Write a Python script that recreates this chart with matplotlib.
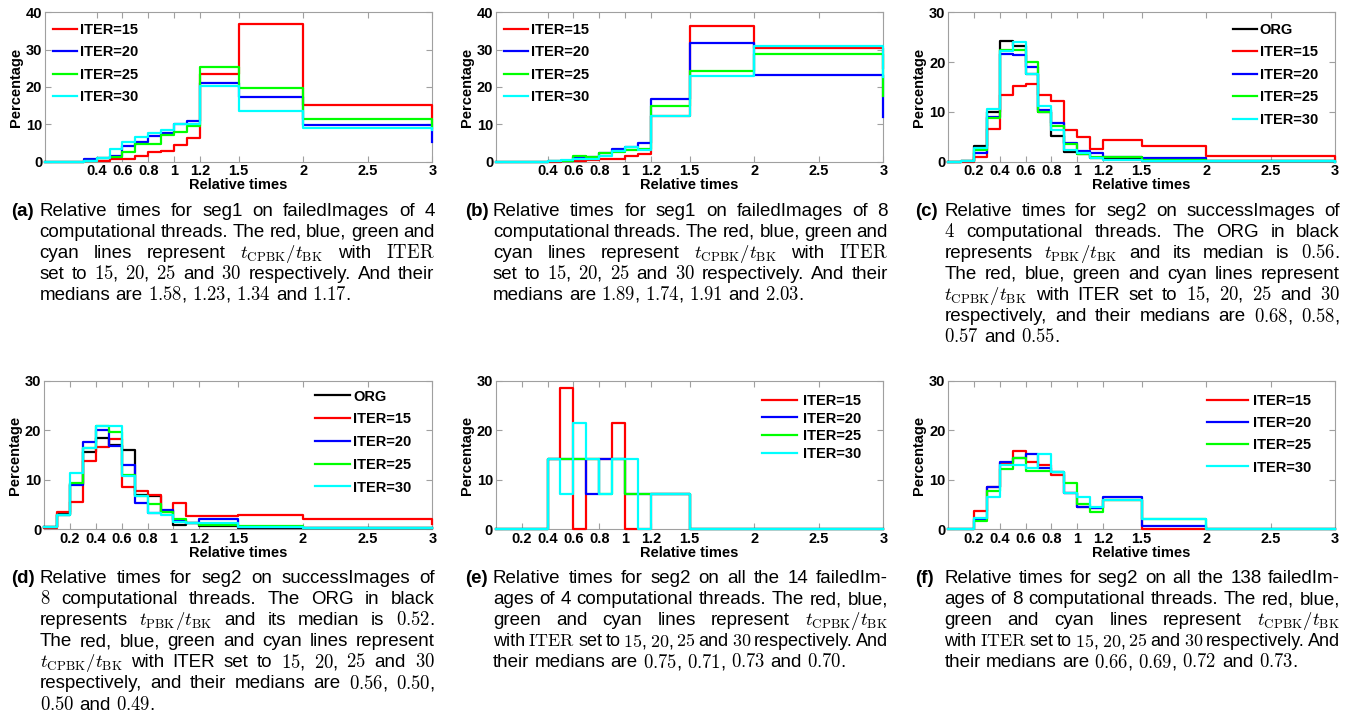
import matplotlib
matplotlib.use('Agg')
import matplotlib.pyplot as plt

plt.rcParams['font.family'] = ['Liberation Sans', 'DejaVu Sans']
plt.rcParams['mathtext.fontset'] = 'cm'

# ---------------- data ----------------
edges = [0.0, 0.1, 0.2, 0.3, 0.4, 0.5, 0.6, 0.7, 0.8, 0.9, 1.0, 1.1, 1.2, 1.5, 2.0, 3.0]

a_15 = [0, 0, 0, 0.3, 0.2, 0.6, 0.6, 1.6, 2.5, 2.8, 4.6, 6.4, 23.5, 37.0, 15.2, 10.0]
a_20 = [0, 0, 0, 0.7, 1.0, 1.5, 4.1, 5.3, 7.0, 7.8, 10.0, 11.0, 21.1, 17.4, 9.9, 5.2]
a_25 = [0, 0, 0, 0.2, 1.1, 1.2, 2.5, 4.8, 4.8, 7.1, 7.9, 9.5, 25.4, 19.6, 11.4, 9.0]
a_30 = [0, 0, 0, 0.1, 1.1, 3.4, 5.2, 6.5, 7.7, 8.4, 10.1, 10.1, 20.3, 13.6, 8.9, 8.5]

b_15 = [0, 0, 0, 0, 0, 0.1, 0.3, 0.4, 0.7, 0.8, 1.6, 2.0, 12.2, 36.2, 30.5, 25.0]
b_20 = [0, 0, 0, 0, 0.2, 0.2, 1.2, 1.2, 2.2, 3.4, 4.0, 5.0, 16.8, 31.8, 23.2, 12.0]
b_25 = [0, 0, 0, 0, 0.1, 0.2, 1.4, 1.3, 2.2, 2.7, 3.2, 3.4, 15.0, 24.2, 28.8, 17.5]
b_30 = [0, 0, 0, 0, 0.1, 0.5, 0.7, 0.8, 1.5, 2.8, 3.9, 3.2, 12.2, 22.9, 31.1, 22.8]

c_org = [0, 0.2, 3.1, 10.0, 24.3, 23.2, 17.6, 10.0, 5.2, 1.9, 1.5, 0.7, 0.5, 0.2, 0.1, 0.1]
c_15 = [0, 0, 1.0, 6.6, 13.4, 15.2, 15.7, 13.4, 12.1, 6.4, 5.0, 2.6, 4.4, 3.2, 1.2, 0.6]
c_20 = [0, 0.1, 1.8, 9.0, 21.6, 21.4, 19.0, 10.4, 7.8, 3.8, 2.1, 1.7, 1.0, 0.7, 0.1, 0]
c_25 = [0, 0.1, 2.3, 8.7, 22.4, 22.4, 20.0, 9.9, 7.2, 3.5, 1.5, 1.0, 1.0, 0.3, 0.1, 0]
c_30 = [0, 0.2, 2.7, 10.6, 22.2, 24.1, 17.6, 11.2, 6.3, 2.3, 1.8, 0.8, 0.4, 0.2, 0.1, 0]

d_org = [0.5, 3.1, 9.2, 15.7, 18.4, 17.1, 16.0, 7.0, 6.8, 3.7, 0.9, 1.2, 0.6, 0.3, 0.2, 0.2]
d_15 = [0.3, 3.4, 5.6, 13.9, 16.6, 18.2, 8.6, 7.8, 6.9, 3.6, 5.3, 2.6, 2.6, 2.8, 2.0, 1.0]
d_20 = [0.4, 2.9, 8.9, 17.6, 20.1, 16.9, 13.0, 5.3, 3.3, 3.9, 1.9, 1.3, 2.0, 0.4, 0.3, 0.2]
d_25 = [0.5, 2.9, 9.4, 16.4, 20.8, 19.6, 11.0, 6.7, 5.1, 3.4, 2.1, 1.2, 0.8, 0.6, 0.2, 0.2]
d_30 = [0.5, 2.9, 11.3, 16.4, 20.8, 20.8, 10.7, 6.7, 3.2, 2.9, 1.5, 1.2, 1.2, 0.4, 0.2, 0.2]

e_15 = [0, 0, 0, 0, 14.29, 28.57, 0, 14.29, 14.29, 21.43, 0, 0, 7.14, 0, 0, 0]
e_20 = [0, 0, 0, 0, 14.29, 14.29, 14.29, 7.14, 14.29, 14.29, 7.14, 7.14, 7.14, 0, 0, 0]
e_25 = [0, 0, 0, 0, 14.29, 14.29, 14.29, 14.29, 7.14, 14.29, 7.14, 7.14, 7.14, 0, 0, 0]
e_30 = [0, 0, 0, 0, 14.29, 7.14, 21.43, 14.29, 7.14, 14.29, 14.29, 0, 7.14, 0, 0, 0]

f_15 = [0, 0, 3.7, 8.6, 13.5, 15.9, 13.7, 13.1, 11.0, 7.3, 4.5, 4.3, 5.9, 0, 0, 0]
f_20 = [0, 0, 2.0, 8.6, 13.7, 14.4, 15.2, 12.3, 11.5, 7.3, 4.5, 4.3, 6.5, 0.7, 0, 0]
f_25 = [0, 0, 1.6, 7.8, 12.2, 14.4, 11.7, 11.7, 11.5, 9.4, 5.1, 3.6, 5.9, 2.1, 0, 0]
f_30 = [0, 0, 2.2, 6.5, 13.1, 13.1, 12.3, 15.2, 11.5, 7.3, 6.6, 4.5, 5.9, 2.1, 0, 0]

iter_labels = ['ITER=15', 'ITER=20', 'ITER=25', 'ITER=30']
org_label = 'ORG'
xt_ab = [0.4, 0.6, 0.8, 1, 1.2, 1.5, 2, 2.5, 3]
xtl_ab = ['0.4', '0.6', '0.8', '1', '1.2', '1.5', '2', '2.5', '3']
xt_cf = [0.2, 0.4, 0.6, 0.8, 1, 1.2, 1.5, 2, 2.5, 3]
xtl_cf = ['0.2', '0.4', '0.6', '0.8', '1', '1.2', '1.5', '2', '2.5', '3']
yt_40 = [0, 10, 20, 30, 40]
yt_30 = [0, 10, 20, 30]
xlabel = 'Relative times'
ylabel = 'Percentage'

T = r'$t_{\mathrm{CPBK}}/t_{\mathrm{BK}}$'
P = r'$t_{\mathrm{PBK}}/t_{\mathrm{BK}}$'
cap_a = ['Relative times for seg1 on failedImages of 4',
         'computational threads. The red, blue, green and',
         'cyan lines represent ' + T + r' with $\mathrm{ITER}$',
         'set to $15$, $20$, $25$ and $30$ respectively. And their',
         'medians are $1.58$, $1.23$, $1.34$ and $1.17$.']
cap_b = ['Relative times for seg1 on failedImages of 8',
         'computational threads. The red, blue, green and',
         'cyan lines represent ' + T + r' with $\mathrm{ITER}$',
         'set to $15$, $20$, $25$ and $30$ respectively. And their',
         'medians are $1.89$, $1.74$, $1.91$ and $2.03$.']
cap_c = ['Relative times for seg2 on successImages of',
         '$4$ computational threads. The ORG in black',
         'represents ' + P + ' and its median is $0.56$.',
         'The red, blue, green and cyan lines represent',
         T + ' with ITER set to $15$, $20$, $25$ and $30$',
         'respectively, and their medians are $0.68$, $0.58$,',
         '$0.57$ and $0.55$.']
cap_d = ['Relative times for seg2 on successImages of',
         '$8$ computational threads. The ORG in black',
         'represents ' + P + ' and its median is $0.52$.',
         'The red, blue, green and cyan lines represent',
         T + ' with ITER set to $15$, $20$, $25$ and $30$',
         'respectively, and their medians are $0.56$, $0.50$,',
         '$0.50$ and $0.49$.']
cap_e = ['Relative times for seg2 on all the 14 failedIm-',
         'ages of 4 computational threads. The red, blue,',
         'green and cyan lines represent ' + T,
         r'with $\mathrm{ITER}$ set to $15$, $20$, $25$ and $30$ respectively. And',
         'their medians are $0.75$, $0.71$, $0.73$ and $0.70$.']
cap_f = ['Relative times for seg2 on all the 138 failedIm-',
         'ages of 8 computational threads. The red, blue,',
         'green and cyan lines represent ' + T,
         r'with $\mathrm{ITER}$ set to $15$, $20$, $25$ and $30$ respectively. And',
         'their medians are $0.66$, $0.69$, $0.72$ and $0.73$.']

# ---------------- figure ----------------
W, H = 1349, 713
fig = plt.figure(figsize=(W / 100, H / 100), dpi=100)
renderer = fig.canvas.get_renderer()

C4 = ['#ff0000', '#0000ff', '#00ff00', '#00ffff']
FS = 10.5
CAPFS = 13.5
MATHFS = 13.5


def add_ax(l, t, r, b):
    return fig.add_axes([l / W, 1 - b / H, (r - l) / W, (b - t) / H])


def panel(ax, series, labels, colors, yt, xt, xtl, leg):
    for vals, lab, col in zip(series, labels, colors):
        ax.step(edges, vals, where='post', color=col, lw=1.6, label=lab,
                clip_on=False, zorder=3)
    ax.set_xlim(0, 3)
    ax.set_ylim(yt[0], yt[-1])
    ax.set_xticks(xt)
    ax.set_xticklabels(xtl, fontsize=FS, fontweight='bold')
    ax.set_yticks(yt)
    ax.set_yticklabels([str(v) for v in yt], fontsize=FS, fontweight='bold')
    ax.set_xlabel(xlabel, fontsize=FS, fontweight='bold', labelpad=0)
    ax.set_ylabel(ylabel, fontsize=FS, fontweight='bold', labelpad=2)
    for s in ax.spines.values():
        s.set_color('#a0a0a0')
        s.set_linewidth(0.8)
    ax.tick_params(direction='in', length=4, width=0.8, color='#a0a0a0',
                   top=True, right=True, pad=2)
    hx, hy, hl, hp, ls = leg
    ax.legend(loc='upper left', bbox_to_anchor=(hx, hy), frameon=False,
              borderpad=0, borderaxespad=0, handlelength=hl, handletextpad=hp,
              labelspacing=ls, prop={'size': FS, 'weight': 'bold'})


axA = add_ax(45, 12.3, 432.3, 161.7)
axB = add_ax(496, 12.3, 883.3, 161.7)
axC = add_ax(948.2, 12.3, 1335, 161.7)
axD = add_ax(44.1, 381, 432.3, 529.3)
axE = add_ax(495.9, 381, 883.3, 529.3)
axF = add_ax(948.2, 381, 1335, 529.3)

panel(axA, [a_15, a_20, a_25, a_30], iter_labels, C4, yt_40, xt_ab, xtl_ab,
      (0.021, 0.931, 1.64, 0.2, 0.585))
panel(axB, [b_15, b_20, b_25, b_30], iter_labels, C4, yt_40, xt_ab, xtl_ab,
      (0.021, 0.931, 1.64, 0.2, 0.585))
panel(axC, [c_org, c_15, c_20, c_25, c_30], [org_label] + iter_labels,
      ['#000000'] + C4, yt_30, xt_cf, xtl_cf, (0.736, 0.931, 1.64, 0.2, 0.585))
panel(axD, [d_org, d_15, d_20, d_25, d_30], [org_label] + iter_labels,
      ['#000000'] + C4, yt_30, xt_cf, xtl_cf, (0.698, 0.942, 2.4, 0.2, 0.6))
panel(axE, [e_15, e_20, e_25, e_30], iter_labels, C4, yt_30, xt_cf, xtl_cf,
      (0.687, 0.915, 2.4, 0.4, 0.27))
panel(axF, [f_15, f_20, f_25, f_30], iter_labels, C4, yt_30, xt_cf, xtl_cf,
      (0.669, 0.915, 2.8, 0.35, 0.57))


# ---------------- captions (justified) ----------------
MINGAP = 3.2


def cap_line(text, x0, x1, yb, justify):
    words = text.split(' ')
    sizes = [(MATHFS if '$' in w else CAPFS) for w in words]
    objs = [fig.text(0, 1 - yb / H, w, fontsize=s, va='baseline', ha='left')
            for w, s in zip(words, sizes)]
    widths = [o.get_window_extent(renderer).width for o in objs]
    n = len(words)
    if justify and n > 1:
        need = sum(widths) + MINGAP * (n - 1)
        if need > (x1 - x0):
            k = (x1 - x0 - MINGAP * (n - 1)) / sum(widths)
            for o, s in zip(objs, sizes):
                o.set_fontsize(s * k)
            widths = [o.get_window_extent(renderer).width for o in objs]
        gap = (x1 - x0 - sum(widths)) / (n - 1)
    else:
        gap = CAPFS * 100 / 72 * 0.278
    x = x0
    for o, w in zip(objs, widths):
        o.set_x(x / W)
        x += w + gap


def caption(tag, lines, xtag, x0, x1, yb0, dy=21.1):
    fig.text(xtag / W, 1 - yb0 / H, tag, fontsize=CAPFS, fontweight='bold',
             va='baseline', ha='left')
    for i, ln in enumerate(lines):
        cap_line(ln, x0, x1, yb0 + i * dy, i < len(lines) - 1)


top_b = 215.5
bot_b = 583.0
caption('(a)', cap_a, 11, 39.5, 434.6, top_b)
caption('(b)', cap_b, 464.7, 493, 888, top_b)
caption('(c)', cap_c, 914.8, 944.5, 1340, top_b)
caption('(d)', cap_d, 11, 39.5, 434.6, bot_b)
caption('(e)', cap_e, 464.7, 493, 888, bot_b)
caption('(f)', cap_f, 914.8, 944.5, 1340, bot_b)

fig.savefig('out.png', dpi=100)
